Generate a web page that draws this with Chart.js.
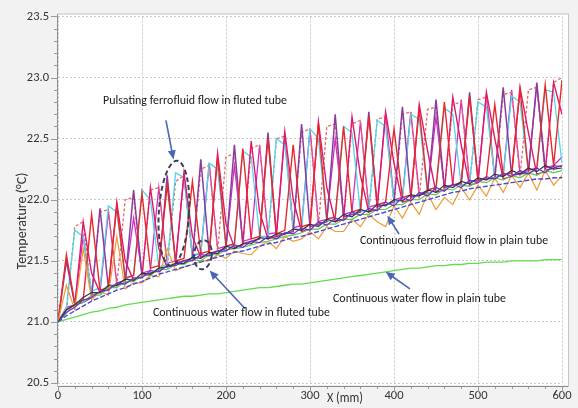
<!DOCTYPE html>
<html>
<head>
<meta charset="utf-8">
<script src="https://cdn.jsdelivr.net/npm/chart.js@4/dist/chart.umd.min.js"></script>
<style>
  html, body { margin: 0; padding: 0; background: #ffffff; }
  canvas { display: block; }
</style>
</head>
<body>
<canvas id="chart" width="578" height="408"></canvas>
<script>
// position along the tube (mm)
const xs = [
  0, 10, 20, 30, 40, 50, 60, 70, 80, 90,
  100, 110, 120, 130, 140, 150, 160, 170, 180, 190,
  200, 210, 220, 230, 240, 250, 260, 270, 280, 290,
  300, 310, 320, 330, 340, 350, 360, 370, 380, 390,
  400, 410, 420, 430, 440, 450, 460, 470, 480, 490,
  500, 510, 520, 530, 540, 550, 560, 570, 580, 590,
  600
];

const yTicks = [20.5, 21.0, 21.5, 22.0, 22.5, 23.0, 23.5];
const xTicks = [0, 100, 200, 300, 400, 500, 600];

// continuous water flow in plain tube
const waterPlain = [
  21.00, 21.02, 21.04, 21.06, 21.08, 21.09, 21.11, 21.12, 21.14, 21.15,
  21.16, 21.17, 21.18, 21.19, 21.20, 21.21, 21.21, 21.22, 21.23, 21.23,
  21.24, 21.25, 21.26, 21.27, 21.28, 21.28, 21.29, 21.30, 21.31, 21.31,
  21.32, 21.33, 21.34, 21.35, 21.36, 21.37, 21.38, 21.39, 21.40, 21.41,
  21.42, 21.43, 21.44, 21.44, 21.45, 21.46, 21.46, 21.47, 21.47, 21.48,
  21.48, 21.49, 21.49, 21.49, 21.50, 21.50, 21.50, 21.50, 21.51, 21.51,
  21.51
];

// continuous ferrofluid flow in plain tube
const ferroPlain = [
  21.00, 21.05, 21.09, 21.13, 21.17, 21.20, 21.23, 21.26, 21.28, 21.31,
  21.33, 21.36, 21.39, 21.41, 21.43, 21.45, 21.47, 21.49, 21.51, 21.53,
  21.55, 21.57, 21.58, 21.60, 21.62, 21.64, 21.65, 21.67, 21.69, 21.70,
  21.72, 21.74, 21.76, 21.78, 21.80, 21.82, 21.84, 21.86, 21.88, 21.90,
  21.92, 21.94, 21.96, 21.98, 22.00, 22.02, 22.04, 22.06, 22.07, 22.09,
  22.10, 22.11, 22.12, 22.13, 22.14, 22.15, 22.16, 22.17, 22.17, 22.18,
  22.18
];

// continuous flows in fluted tube
const contViolet = [
  21.00, 21.08, 21.12, 21.18, 21.20, 21.25, 21.26, 21.32, 21.31, 21.36,
  21.36, 21.42, 21.41, 21.46, 21.46, 21.50, 21.50, 21.55, 21.54, 21.58,
  21.58, 21.63, 21.61, 21.66, 21.65, 21.70, 21.68, 21.73, 21.72, 21.77,
  21.75, 21.82, 21.79, 21.85, 21.83, 21.90, 21.87, 21.93, 21.91, 21.98,
  21.95, 22.02, 21.99, 22.06, 22.03, 22.10, 22.07, 22.13, 22.10, 22.16,
  22.14, 22.19, 22.17, 22.22, 22.19, 22.24, 22.21, 22.26, 22.22, 22.28,
  22.27
];
const contDark = [
  21.00, 21.10, 21.14, 21.20, 21.24, 21.24, 21.30, 21.30, 21.35, 21.34,
  21.40, 21.39, 21.44, 21.45, 21.48, 21.48, 21.53, 21.52, 21.57, 21.56,
  21.62, 21.60, 21.64, 21.64, 21.69, 21.68, 21.72, 21.72, 21.76, 21.75,
  21.80, 21.78, 21.84, 21.82, 21.88, 21.86, 21.92, 21.90, 21.96, 21.95,
  22.00, 21.99, 22.04, 22.03, 22.08, 22.06, 22.12, 22.10, 22.15, 22.13,
  22.18, 22.16, 22.21, 22.19, 22.24, 22.21, 22.26, 22.23, 22.28, 22.25,
  22.26
];
const contGreen = [
  21.00, 21.07, 21.15, 21.16, 21.22, 21.22, 21.28, 21.28, 21.33, 21.33,
  21.38, 21.38, 21.43, 21.43, 21.47, 21.47, 21.51, 21.50, 21.55, 21.55,
  21.59, 21.60, 21.61, 21.63, 21.65, 21.66, 21.68, 21.70, 21.71, 21.73,
  21.76, 21.76, 21.80, 21.80, 21.84, 21.84, 21.88, 21.88, 21.92, 21.92,
  21.96, 21.96, 22.00, 22.00, 22.05, 22.04, 22.09, 22.08, 22.12, 22.11,
  22.15, 22.14, 22.18, 22.16, 22.20, 22.18, 22.22, 22.20, 22.24, 22.22,
  22.24
];
const contOrange = [
  21.00, 21.30, 21.10, 21.60, 21.18, 21.25, 21.22, 21.70, 21.27, 21.32,
  21.32, 21.38, 21.37, 21.60, 21.42, 21.45, 21.47, 21.50, 21.50, 21.55,
  21.52, 21.58, 21.56, 21.55, 21.62, 21.66, 21.60, 21.70, 21.66, 21.68,
  21.74, 21.68, 21.78, 21.74, 21.74, 21.84, 21.78, 21.88, 21.82, 21.78,
  21.95, 21.85, 21.98, 21.88, 22.05, 21.92, 22.02, 21.96, 22.10, 22.00,
  22.12, 22.03, 22.18, 22.06, 22.20, 22.10, 22.22, 22.08, 22.24, 22.12,
  22.20
];

// pulsating ferrofluid flow in fluted tube
const pulseRed = [
  21.00, 21.55, 21.15, 21.18, 21.88, 21.26, 21.28, 21.95, 21.36, 21.38,
  22.05, 21.44, 21.46, 22.12, 21.50, 21.52, 22.15, 21.56, 21.58, 22.35,
  21.62, 21.64, 22.42, 21.68, 21.70, 22.50, 21.72, 21.75, 22.45, 21.78,
  21.80, 22.62, 21.84, 21.86, 22.60, 21.90, 21.92, 22.68, 21.96, 21.98,
  22.58, 22.02, 22.04, 22.74, 22.08, 22.10, 22.80, 22.12, 22.14, 22.84,
  22.16, 22.18, 22.78, 22.20, 22.22, 22.90, 22.24, 22.26, 22.94, 22.28,
  22.98
];
const pulseCrimson = [
  21.00, 21.10, 21.14, 21.82, 21.40, 21.24, 21.27, 21.98, 21.50, 21.34,
  21.37, 22.10, 21.60, 21.45, 21.47, 22.22, 21.70, 21.53, 21.55, 22.38,
  21.80, 21.61, 21.63, 22.48, 21.90, 21.68, 21.70, 22.56, 22.00, 21.74,
  21.76, 22.64, 22.10, 21.82, 21.84, 22.68, 22.20, 21.90, 21.92, 22.72,
  22.30, 21.98, 22.00, 22.78, 22.40, 22.06, 22.08, 22.84, 22.45, 22.12,
  22.14, 22.88, 22.50, 22.17, 22.19, 22.92, 22.55, 22.21, 22.23, 22.96,
  22.70
];
const pulsePurple = [
  21.00, 21.50, 21.14, 21.16, 21.20, 21.93, 21.28, 21.30, 21.32, 22.08,
  21.38, 21.40, 21.42, 22.20, 21.48, 21.50, 21.52, 22.33, 21.56, 21.58,
  21.60, 22.45, 21.64, 21.66, 21.68, 22.55, 21.70, 21.72, 21.74, 22.62,
  21.78, 21.80, 21.82, 22.70, 21.86, 21.88, 21.90, 22.72, 21.94, 21.96,
  21.98, 22.76, 22.02, 22.04, 22.06, 22.82, 22.10, 22.12, 22.13, 22.88,
  22.16, 22.17, 22.18, 22.92, 22.20, 22.21, 22.22, 22.96, 22.24, 22.26,
  22.28
];
const pulseCyan = [
  21.00, 21.12, 21.75, 21.70, 21.25, 21.28, 21.95, 21.90, 21.35, 21.38,
  22.08, 22.00, 21.45, 21.47, 22.22, 22.18, 21.55, 21.56, 22.30, 22.25,
  21.62, 21.63, 22.40, 22.35, 21.70, 21.70, 22.50, 22.45, 21.76, 21.76,
  22.58, 22.50, 21.82, 21.84, 22.60, 22.55, 21.90, 21.92, 22.65, 22.60,
  21.98, 22.00, 22.70, 22.66, 22.05, 22.08, 22.75, 22.70, 22.12, 22.14,
  22.80, 22.76, 22.18, 22.20, 22.85, 22.80, 22.22, 22.24, 22.90, 22.88,
  22.30
];
const pulseSalmon = [
  21.00, 21.08, 21.78, 21.82, 21.22, 21.90, 21.92, 21.30, 22.00, 22.02,
  21.38, 22.08, 22.10, 21.45, 22.15, 22.20, 21.52, 22.25, 22.28, 21.58,
  22.35, 22.38, 21.63, 22.42, 22.45, 21.68, 22.50, 22.52, 21.73, 22.55,
  22.58, 21.78, 22.60, 22.62, 21.84, 22.62, 22.65, 21.90, 22.66, 22.68,
  21.96, 22.70, 22.72, 22.01, 22.74, 22.76, 22.07, 22.78, 22.80, 22.12,
  22.82, 22.84, 22.16, 22.86, 22.88, 22.19, 22.90, 22.92, 22.22, 22.96,
  23.00
];
const pulseMagenta = [
  21.00, 21.12, 21.14, 21.70, 21.22, 21.24, 21.90, 21.32, 21.34, 21.85,
  21.40, 21.42, 22.10, 21.48, 21.50, 22.20, 21.54, 21.56, 22.30, 21.60,
  21.62, 22.28, 21.66, 21.68, 22.45, 21.72, 21.73, 22.52, 21.77, 21.79,
  22.58, 21.82, 21.84, 22.50, 21.88, 21.90, 22.64, 21.94, 21.96, 22.70,
  22.00, 22.02, 22.72, 22.05, 22.07, 22.68, 22.10, 22.12, 22.82, 22.15,
  22.16, 22.86, 22.18, 22.20, 22.90, 22.22, 22.24, 22.94, 22.26, 22.28,
  22.35
];

const FONT = "Carlito, 'Liberation Sans Narrow', Lato, sans-serif";

function series(values, color, width, dash) {
  return {
    data: xs.map((x, i) => ({ x: x, y: values[i] })),
    borderColor: color,
    borderWidth: width,
    borderDash: dash || [],
    pointRadius: 0,
    tension: 0,
    fill: false
  };
}

function arrow(ctx, x1, y1, x2, y2) {
  const a = Math.atan2(y2 - y1, x2 - x1);
  ctx.strokeStyle = "#4a66b8";
  ctx.fillStyle = "#4a66b8";
  ctx.lineWidth = 1.6;
  ctx.setLineDash([]);
  ctx.beginPath();
  ctx.moveTo(x1, y1);
  ctx.lineTo(x2 - 6 * Math.cos(a), y2 - 6 * Math.sin(a));
  ctx.stroke();
  ctx.beginPath();
  ctx.moveTo(x2, y2);
  ctx.lineTo(x2 - 9 * Math.cos(a) + 4 * Math.sin(a), y2 - 9 * Math.sin(a) - 4 * Math.cos(a));
  ctx.lineTo(x2 - 9 * Math.cos(a) - 4 * Math.sin(a), y2 - 9 * Math.sin(a) + 4 * Math.cos(a));
  ctx.closePath();
  ctx.fill();
}

const decor = {
  id: "decor",
  beforeDraw(chart) {
    const { ctx, chartArea: a } = chart;
    ctx.save();
    ctx.fillStyle = "#f2f2f2";
    ctx.fillRect(0, 0, chart.width, chart.height);
    ctx.fillStyle = "#ffffff";
    ctx.fillRect(a.left, a.top - 2, a.right - a.left + 6, a.bottom - a.top + 4);
    ctx.restore();
  },
  afterDraw(chart) {
    const { ctx, chartArea: a } = chart;
    const sx = chart.scales.x, sy = chart.scales.y;
    const X = v => sx.getPixelForValue(v), Y = v => sy.getPixelForValue(v);
    ctx.save();

    // frame
    ctx.strokeStyle = "#c4c4c4";
    ctx.lineWidth = 1;
    ctx.strokeRect(a.left - 0.5, a.top - 2.5, a.right - a.left + 7, a.bottom - a.top + 6);
    // axes
    ctx.strokeStyle = "#8a8a8a";
    ctx.beginPath();
    ctx.moveTo(a.left - 0.5, a.top - 2);
    ctx.lineTo(a.left - 0.5, a.bottom + 1);
    ctx.moveTo(a.left, a.bottom + 3.5);
    ctx.lineTo(a.right + 6, a.bottom + 3.5);
    ctx.stroke();
    // minor ticks
    ctx.strokeStyle = "#9a9a9a";
    ctx.beginPath();
    for (let v = 20.5; v <= 23.501; v += 0.1) {
      const major = Math.abs(v * 2 - Math.round(v * 2)) < 0.01;
      const py = Math.round(Y(v)) + 0.5;
      ctx.moveTo(a.left - (major ? 7 : 4), py);
      ctx.lineTo(a.left, py);
    }
    for (let v = 0; v <= 600; v += 20) {
      const major = v % 100 === 0;
      const px = Math.round(X(v)) + 0.5;
      ctx.moveTo(px, a.bottom + 3.5);
      ctx.lineTo(px, a.bottom + (major ? 9 : 6));
    }
    ctx.stroke();

    // axis titles
    ctx.fillStyle = "#333333";
    ctx.font = "14px " + FONT;
    ctx.textAlign = "center";
    ctx.textBaseline = "middle";
    ctx.save();
    ctx.translate(22, 221);
    ctx.rotate(-Math.PI / 2);
    ctx.fillText("Temperature (\u00B0C)", 0, 0, 118);
    ctx.restore();
    ctx.fillText("X (mm)", 345, 398, 36);

    // dashed ellipses
    ctx.strokeStyle = "#3b4257";
    ctx.lineWidth = 2;
    ctx.setLineDash([5, 3]);
    ctx.beginPath();
    ctx.ellipse(X(138), Y(21.89), X(138) - X(120), Y(21.89) - Y(22.32), 0.06, 0, Math.PI * 2);
    ctx.stroke();
    ctx.beginPath();
    ctx.ellipse(X(172.5), Y(21.55), X(172.5) - X(162), Y(21.55) - Y(21.67), 0.1, 0, Math.PI * 2);
    ctx.stroke();

    // arrows
    arrow(ctx, X(128.5), Y(22.65), X(137.5), Y(22.33));
    arrow(ctx, X(222.6), Y(21.11), X(180.5), Y(21.42));
    arrow(ctx, X(419), Y(21.27), X(390), Y(21.41));
    arrow(ctx, X(406), Y(21.72), X(392), Y(21.87));

    // labels
    ctx.fillStyle = "#1a1a1a";
    ctx.font = "12.5px " + FONT;
    ctx.textAlign = "left";
    ctx.fillText("Pulsating ferrofluid flow in fluted tube", 103, 101, 184);
    ctx.fillText("Continuous water flow in fluted tube", 153, 313, 177);
    ctx.fillText("Continuous water flow in plain tube", 333, 299, 173);
    ctx.fillText("Continuous ferrofluid flow in plain tube", 360, 241, 188);
    ctx.restore();
  }
};

new Chart(document.getElementById("chart"), {
  type: "line",
  data: {
    datasets: [
      series(ferroPlain, "#4a4ad8", 1.4, [5, 2]),
      series(contViolet, "#6a30c8", 1.2),
      series(contDark, "#303440", 1.2),
      series(contGreen, "#58c858", 1.2),
      series(contOrange, "#f29a38", 1.2),
      series(pulseRed, "#e8282a", 1.4),
      series(pulseCrimson, "#e0186a", 1.4),
      series(pulsePurple, "#8a3c9e", 1.5),
      series(pulseCyan, "#4cd8e8", 1.3),
      series(pulseSalmon, "#e86868", 1.3, [3, 2]),
      series(pulseMagenta, "#d22cc0", 1.3),
      series(waterPlain, "#62dc4c", 1.3)
    ]
  },
  options: {
    responsive: false,
    animation: false,
    layout: { padding: { left: 0, right: 16, top: 11, bottom: 0 } },
    plugins: { legend: { display: false }, tooltip: { enabled: false } },
    scales: {
      x: {
        type: "linear",
        min: 0,
        max: 600,
        afterFit(s) { s.height = 25; },
        afterBuildTicks(s) { s.ticks = xTicks.map(v => ({ value: v })); },
        ticks: { color: "#333333", font: { size: 12.5, family: FONT }, padding: 5, maxRotation: 0 },
        grid: { color: "#c8c8c8", drawTicks: false, tickLength: 4 },
        border: { display: false, dash: [2, 2] }
      },
      y: {
        min: 20.5,
        max: 23.5,
        afterFit(s) { s.width = 58; },
        afterBuildTicks(s) { s.ticks = yTicks.map(v => ({ value: v })); },
        ticks: { color: "#333333", font: { size: 12.5, family: FONT }, padding: 9, callback: v => v.toFixed(1) },
        grid: { color: "#c8c8c8", drawTicks: false },
        border: { display: false, dash: [2, 2] }
      }
    }
  },
  plugins: [decor]
});
</script>
</body>
</html>
